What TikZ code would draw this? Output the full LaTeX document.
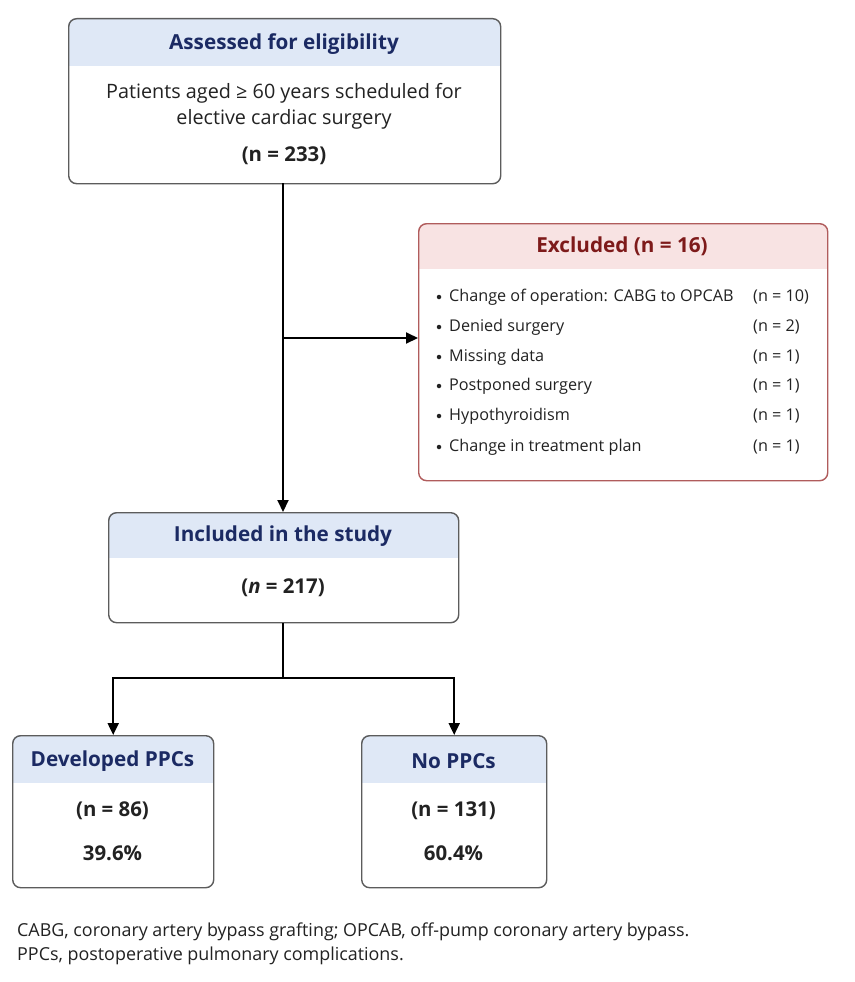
\documentclass[tikz,border=0pt]{standalone}
\usepackage{fontspec}
\setmainfont{Open Sans}
\usetikzlibrary{arrows.meta}
\definecolor{hdrblue}{HTML}{DFE8F6}
\definecolor{navy}{HTML}{1B2A63}
\definecolor{hdrred}{HTML}{F8E3E3}
\definecolor{dred}{HTML}{7E1A1A}
\definecolor{redline}{HTML}{B05C5C}
\definecolor{boxline}{HTML}{5C5C5C}
\definecolor{txt}{HTML}{222222}
\newcommand\hdrband[6]{%
  \begin{scope}
    \clip[rounded corners=8pt] (#1,#2) rectangle (#3,#4);
    \fill[#6] (#1,#2) rectangle (#3,#5);
  \end{scope}}
\begin{document}
\begin{tikzpicture}[x=1pt,y=-1pt,
  box/.style={draw=boxline, line width=1.4pt, rounded corners=8pt, inner sep=0pt, anchor=north west},
  rbox/.style={box, draw=redline},
  ttl/.style={font=\fontsize{20.7}{24}\selectfont\bfseries, text=navy, inner sep=0pt},
  rttl/.style={ttl, text=dred},
  body/.style={font=\fontsize{19.8}{26}\selectfont, text=txt, inner sep=0pt, align=center},
  bbody/.style={body, font=\fontsize{20.4}{24}\selectfont\bfseries},
  item/.style={font=\fontsize{16.2}{20}\selectfont, text=txt, inner sep=0pt, anchor=west},
  dot/.style={circle, fill=txt, inner sep=0pt, minimum size=4.5pt},
  note/.style={font=\fontsize{17.9}{22}\selectfont, text=txt, inner sep=0pt, anchor=west},
  conn/.style={line width=2pt, black},
  arr/.style={conn, -{Triangle[length=12pt,width=11pt]}}]
\useasboundingbox (0,0) rectangle (854,982);
\fill[white] (0,0) rectangle (854,982);

% header bands
\hdrband{68}{18}{500}{183}{66}{hdrblue}
\hdrband{418}{223}{827}{480}{269}{hdrred}
\hdrband{108}{512}{458}{622}{558}{hdrblue}
\hdrband{12}{735}{213}{887}{783}{hdrblue}
\hdrband{361}{735}{546}{887}{783}{hdrblue}

% boxes
\node[box, minimum width=432pt, minimum height=165pt] (assess) at (68,18) {};
\node[rbox, minimum width=409pt, minimum height=257pt] (excl) at (418,223) {};
\node[box, minimum width=350pt, minimum height=110pt] (incl) at (108,512) {};
\node[box, minimum width=201pt, minimum height=152pt] (dev) at (12,735) {};
\node[box, minimum width=185pt, minimum height=152pt] (nopp) at (361,735) {};

% texts
\node[ttl] (t1) at (284,44) {Assessed for eligibility};
\node[body] (b1) at (284,106) {Patients aged ≥ 60 years scheduled for\\elective cardiac surgery};
\node[bbody] (n1) at (284,156) {(n = 233)};

\node[rttl] (t2) at (622,246) {Excluded (n = 16)};
\foreach \y/\lab/\num [count=\i] in {297/Change of operation: CABG to OPCAB/10, 327/Denied surgery/2, 357/Missing data/1, 386/Postponed surgery/1, 416/Hypothyroidism/1, 447/Change in treatment plan/1}{
  \node[dot] (d\i) at (439,\y) {};
  \node[item] (e\i) at (449,\y) {\lab};
  \node[item] (en\i) at (753,\y) {(n = \num)};
}

\node[ttl] (t3) at (283,536) {Included in the study};
\node[bbody] (n3) at (283,588) {(\textit{n} = 217)};

\node[ttl] (t4) at (112.5,761) {Developed PPCs};
\node[bbody] (n4) at (112.5,811) {(n = 86)};
\node[bbody] (p4) at (112.5,853) {39.6\%};

\node[ttl] (t5) at (453.5,761) {No PPCs};
\node[bbody] (n5) at (453.5,811) {(n = 131)};
\node[bbody] (p5) at (453.5,853) {60.4\%};

\node[note] (f1) at (17,932) {CABG, coronary artery bypass grafting; OPCAB, off-pump coronary artery bypass.};
\node[note] (f2) at (17,956) {PPCs, postoperative pulmonary complications.};

% connectors
\coordinate (src) at (283,183);
\coordinate (br) at (283,338);
\coordinate (split) at (283,678);
\draw[arr] (src) -- (src |- incl.north);
\draw[arr] (br) -- (excl.west |- br);
\draw[conn] (split |- incl.south) -- (split);
\draw[arr] (split) -| (dev.north);
\draw[arr] (split) -| (nopp.north);
\end{tikzpicture}
\end{document}
